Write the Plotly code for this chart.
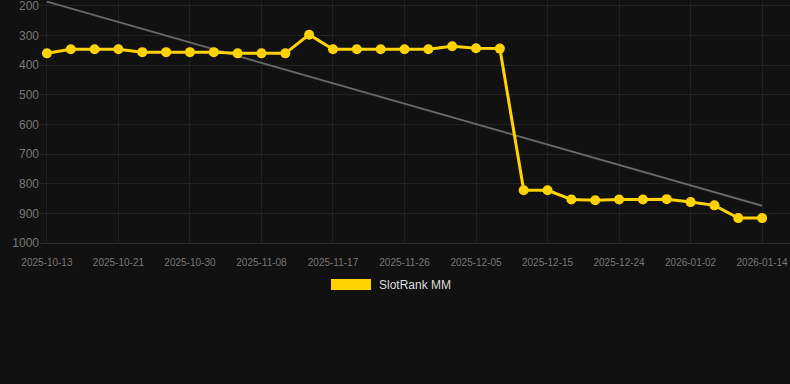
import numpy as np
import plotly.graph_objects as go

dates = ["2025-10-13", "2025-10-16", "2025-10-18", "2025-10-21", "2025-10-24", "2025-10-27",
         "2025-10-30", "2025-11-02", "2025-11-05", "2025-11-08", "2025-11-11", "2025-11-14",
         "2025-11-17", "2025-11-20", "2025-11-23", "2025-11-26", "2025-11-29", "2025-12-02",
         "2025-12-05", "2025-12-08", "2025-12-11", "2025-12-15", "2025-12-18", "2025-12-21",
         "2025-12-24", "2025-12-27", "2025-12-30", "2026-01-02", "2026-01-06", "2026-01-10",
         "2026-01-14"]
rank = [360, 346, 346, 346, 356, 356, 356, 356, 360, 360, 360, 297, 346, 346, 346, 346,
        346, 336, 343, 344, 822, 822, 853, 856, 853, 853, 852, 862, 873, 916, 916]
tick_labels = dates[::3]
series_name = "SlotRank MM"

idx = np.arange(len(rank))
slope, intercept = np.polyfit(idx, rank, 1)
trend = [intercept, intercept + slope * idx[-1]]

GOLD = "#FFD200"
fig = go.Figure()
fig.add_trace(go.Scatter(x=[dates[0], dates[-1]], y=trend, mode="lines",
                         line=dict(color="#666666", width=2), showlegend=False, hoverinfo="skip"))
fig.add_trace(go.Scatter(x=dates, y=rank, mode="lines+markers",
                         line=dict(color=GOLD, width=3), marker=dict(color=GOLD, size=10),
                         showlegend=False, name=series_name))

# legend (drawn as a swatch + label below the plot)
fig.add_shape(type="rect", xref="paper", yref="paper", x0=0.388, x1=0.4413, y0=-0.1934, y1=-0.148,
              fillcolor=GOLD, line=dict(width=0))
fig.add_annotation(text=series_name, xref="paper", yref="paper", x=0.4493, y=-0.1708,
                   xanchor="left", yanchor="middle", showarrow=False,
                   font=dict(size=12, color="#dddddd"))

fig.update_layout(
    width=790, height=384,
    paper_bgcolor="#111111", plot_bgcolor="#111111",
    margin=dict(l=40, r=0, t=0, b=141),
    font=dict(family="Liberation Sans, Arial, sans-serif", color="#777777"),
    showlegend=False,
)
fig.update_xaxes(type="category", categoryorder="array", categoryarray=dates,
                 range=[-0.29, 31.17], tickmode="array", tickvals=tick_labels, ticktext=tick_labels,
                 tickfont=dict(size=10, color="#777777"), showgrid=True, gridcolor="#1f1f1f",
                 zeroline=False, showline=True, linecolor="#2a2a2a", linewidth=1,
                 ticks="", ticklabelstandoff=10, ticklabeloverflow="allow")
fig.update_yaxes(range=[1000, 180], tickmode="array", tickvals=list(range(200, 1001, 100)),
                 tickfont=dict(size=12, color="#777777"), showgrid=True, gridcolor="#222222",
                 zeroline=False, showline=False, ticks="", ticklabeloverflow="allow")

fig.write_html("out.html", config={"displayModeBar": False},
               post_script="document.body.style.margin='0';document.body.style.background='#111111';document.body.style.overflow='hidden';")
